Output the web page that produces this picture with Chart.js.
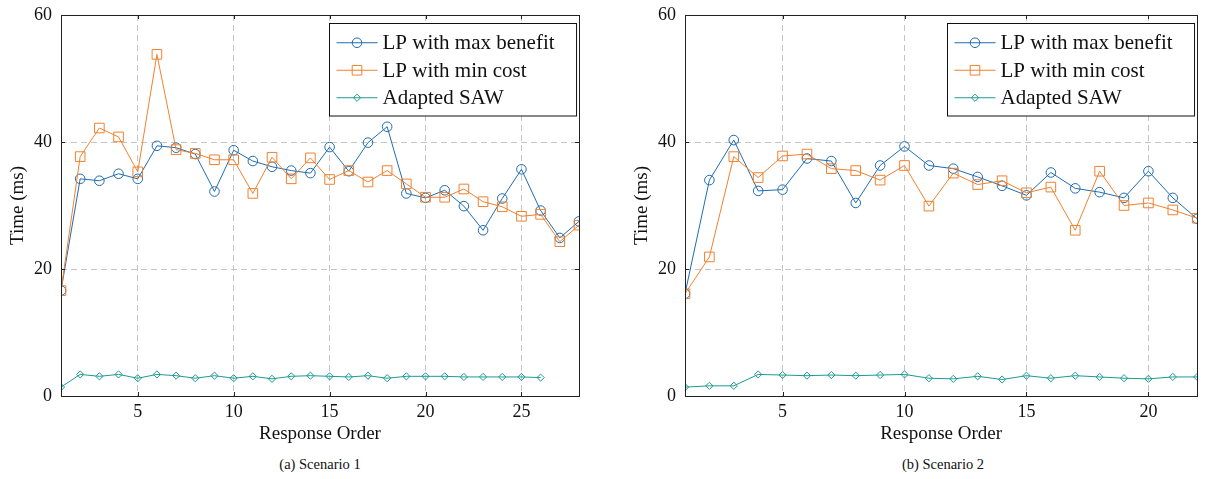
<!DOCTYPE html>
<html>
<head>
<meta charset="utf-8">
<script src="https://cdn.jsdelivr.net/npm/chart.js@4.4.1/dist/chart.umd.min.js"></script>
<style>
    body { margin: 0; width: 1205px; height: 479px; background: #fff; position: relative; overflow: hidden; font-family: 'Liberation Serif', 'DejaVu Serif', serif; color: #111; }
    .panel { position: absolute; top: 0; }
    #panel-a { left: 0; }
    #panel-b { left: 624px; }
    .caption { position: absolute; top: 456px; font-size: 14.5px; width: 300px; text-align: center; }
</style>
</head>
<body>
<div class="panel" id="panel-a"><canvas id="chart-a" width="600" height="445"></canvas></div>
<div class="panel" id="panel-b"><canvas id="chart-b" width="581" height="445"></canvas></div>
<div class="caption" style="left:170px">(a) Scenario 1</div>
<div class="caption" style="left:793px">(b) Scenario 2</div>
<script>
// Scenario 1
const order1 = [1, 2, 3, 4, 5, 6, 7, 8, 9, 10, 11, 12, 13, 14, 15, 16, 17, 18, 19, 20, 21, 22, 23, 24, 25, 26, 27, 28];
const maxBenefit1 = [16.6, 34.2, 33.9, 35.0, 34.2, 39.4, 39.1, 38.1, 32.2, 38.7, 37.0, 36.1, 35.5, 35.1, 39.2, 35.4, 39.9, 42.4, 31.9, 31.2, 32.4, 29.9, 26.1, 31.1, 35.7, 29.2, 24.9, 27.5];
const minCost1 = [16.6, 37.7, 42.2, 40.8, 35.3, 53.8, 38.8, 38.2, 37.2, 37.2, 31.9, 37.6, 34.2, 37.5, 34.1, 35.5, 33.7, 35.5, 33.4, 31.3, 31.3, 32.6, 30.6, 29.8, 28.3, 28.6, 24.3, 26.9];
const saw1 = [1.4, 3.4, 3.1, 3.4, 2.8, 3.4, 3.2, 2.8, 3.2, 2.8, 3.1, 2.7, 3.1, 3.2, 3.1, 3.0, 3.2, 2.8, 3.1, 3.1, 3.1, 3.0, 3.0, 3.0, 3.0, 2.9];
const xTicks1 = [5, 10, 15, 20, 25];

// Scenario 2
const order2 = [1, 2, 3, 4, 5, 6, 7, 8, 9, 10, 11, 12, 13, 14, 15, 16, 17, 18, 19, 20, 21, 22];
const maxBenefit2 = [16.1, 34.0, 40.3, 32.3, 32.5, 37.4, 37.0, 30.4, 36.3, 39.3, 36.3, 35.8, 34.5, 33.1, 31.6, 35.2, 32.7, 32.1, 31.2, 35.4, 31.2, 27.9];
const minCost2 = [16.1, 21.9, 37.7, 34.4, 37.8, 38.1, 35.8, 35.5, 34.0, 36.3, 29.9, 35.1, 33.3, 33.9, 32.0, 32.9, 26.1, 35.4, 30.0, 30.4, 29.3, 28.0];
const saw2 = [1.4, 1.6, 1.6, 3.4, 3.3, 3.2, 3.3, 3.2, 3.3, 3.4, 2.8, 2.7, 3.1, 2.6, 3.2, 2.8, 3.2, 3.0, 2.8, 2.7, 3.0, 3.0];
const xTicks2 = [5, 10, 15, 20];

const yTicks = [0, 20, 40, 60];

const BLUE = '#1f6cb0';
const ORANGE = '#f0812f';
const TEAL = '#1b9b93';
const SERIF = "'Liberation Serif', 'DejaVu Serif', serif";

const toPoints = (xs, ys) => ys.map((y, i) => ({ x: xs[i], y }));

function drawMarker(ctx, style, r, x, y) {
    ctx.beginPath();
    if (style === 'circle') {
        ctx.arc(x, y, r, 0, Math.PI * 2);
    } else if (style === 'rect') {
        const s = r * Math.SQRT1_2;
        ctx.rect(x - s, y - s, 2 * s, 2 * s);
    } else {
        ctx.moveTo(x - r, y); ctx.lineTo(x, y - r); ctx.lineTo(x + r, y); ctx.lineTo(x, y + r); ctx.closePath();
    }
    ctx.stroke();
}

// box frame, inner tick marks and the pgfplots-style legend in the upper right corner
const framePlugin = {
    id: 'frame',
    afterDraw(chart) {
        const { ctx, chartArea: a, scales } = chart;
        ctx.save();
        ctx.strokeStyle = '#222';
        ctx.lineWidth = 1;
        ctx.beginPath();
        scales.x.ticks.forEach(t => {
            const px = Math.round(scales.x.getPixelForValue(t.value)) + 0.5;
            ctx.moveTo(px, a.bottom); ctx.lineTo(px, a.bottom - 4);
            ctx.moveTo(px, a.top); ctx.lineTo(px, a.top + 4);
        });
        scales.y.ticks.forEach(t => {
            const py = Math.round(scales.y.getPixelForValue(t.value)) + 0.5;
            ctx.moveTo(a.left, py); ctx.lineTo(a.left + 4, py);
            ctx.moveTo(a.right, py); ctx.lineTo(a.right - 4, py);
        });
        ctx.stroke();
        ctx.strokeRect(Math.round(a.left) + 0.5, Math.round(a.top) + 0.5, Math.round(a.right - a.left), Math.round(a.bottom - a.top));

        // legend
        const items = chart.data.datasets.slice().sort((p, q) => p.legendIndex - q.legendIndex);
        ctx.font = '21px ' + SERIF;
        const textW = Math.max(...items.map(d => ctx.measureText(d.label).width));
        const rowH = 27.5;
        const boxW = 7 + 41 + 5 + textW + 22;
        const boxH = rowH * items.length + 10;
        const bx = Math.round(a.right - 3 - boxW) + 0.5;
        const by = Math.round(a.top + 8) + 0.5;
        ctx.fillStyle = '#fff';
        ctx.fillRect(bx, by, boxW, boxH);
        ctx.strokeStyle = '#111';
        ctx.strokeRect(bx, by, boxW, boxH);
        items.forEach((d, i) => {
            const cy = by + 5 + rowH * (i + 0.5) + 0.5;
            const lx = bx + 7;
            ctx.strokeStyle = d.borderColor;
            ctx.lineWidth = 1;
            ctx.beginPath(); ctx.moveTo(lx, cy); ctx.lineTo(lx + 41, cy); ctx.stroke();
            drawMarker(ctx, d.pointStyle, d.pointRadius, lx + 20.5, cy);
            ctx.fillStyle = '#111';
            ctx.textBaseline = 'middle';
            ctx.textAlign = 'left';
            ctx.fillText(d.label, lx + 46, cy + 1);
        });
        ctx.restore();
    }
};

function makeChart(canvasId, xs, benefit, cost, saw, xTicks, padRight) {
    const dataset = (label, ys, color, style, radius, idx) => ({
        label,
        data: toPoints(xs, ys),
        borderColor: color,
        backgroundColor: 'rgba(0,0,0,0)',
        pointBackgroundColor: 'rgba(0,0,0,0)',
        pointBorderColor: color,
        pointStyle: style,
        pointRadius: radius,
        pointBorderWidth: 1,
        borderWidth: 1,
        tension: 0,
        order: 3 - idx,
        legendIndex: idx
    });
    return new Chart(document.getElementById(canvasId), {
        type: 'line',
        data: {
            datasets: [
                dataset('LP with max benefit', benefit, BLUE, 'circle', 4.8, 0),
                dataset('LP with min cost', cost, ORANGE, 'rect', 6.8, 1),
                dataset('Adapted SAW', saw, TEAL, 'rectRot', 3.6, 2)
            ]
        },
        options: {
            responsive: false,
            animation: false,
            layout: { padding: { top: 15, right: padRight, left: 0, bottom: 0 } },
            plugins: { legend: { display: false }, tooltip: { enabled: false } },
            scales: {
                x: {
                    type: 'linear',
                    min: xs[0],
                    max: xs[xs.length - 1],
                    afterBuildTicks: s => { s.ticks = xTicks.map(v => ({ value: v })); },
                    afterFit: s => { s.height = 49; s.paddingLeft = 0; s.paddingRight = 0; },
                    grid: { color: '#c4c4c4', lineWidth: 1, drawTicks: false },
                    border: { display: false, dash: [6, 4] },
                    ticks: { color: '#111', font: { family: SERIF, size: 18 }, padding: 5, maxRotation: 0 },
                    title: { display: true, text: 'Response Order', color: '#111', font: { family: SERIF, size: 19 }, padding: { top: 0, bottom: 0 } }
                },
                y: {
                    min: 0,
                    max: 60,
                    afterBuildTicks: s => { s.ticks = yTicks.map(v => ({ value: v })); },
                    afterFit: s => { s.width = 61; s.paddingTop = 0; s.paddingBottom = 0; },
                    grid: { color: '#c4c4c4', lineWidth: 1, drawTicks: false },
                    border: { display: false, dash: [6, 4] },
                    ticks: { color: '#111', font: { family: SERIF, size: 18 }, padding: 9 },
                    title: { display: true, text: 'Time (ms)', color: '#111', font: { family: SERIF, size: 19 }, padding: { top: 7, bottom: 0 } }
                }
            }
        },
        plugins: [framePlugin]
    });
}

makeChart('chart-a', order1, maxBenefit1, minCost1, saw1, xTicks1, 21);
makeChart('chart-b', order2, maxBenefit2, minCost2, saw2, xTicks2, 3);
</script>
</body>
</html>
